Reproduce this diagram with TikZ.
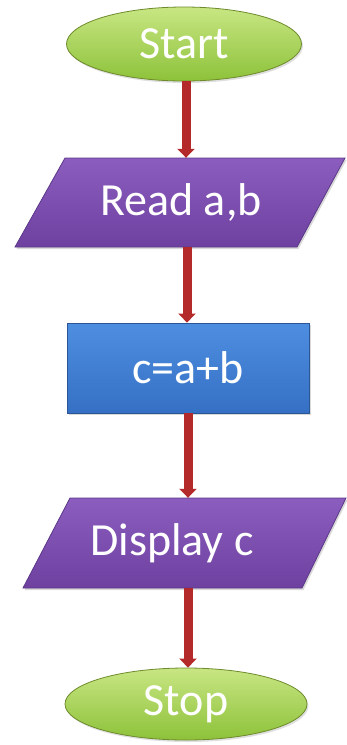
\documentclass[tikz,border=0pt]{standalone}
\usepackage{fontspec}
\setmainfont{Carlito}
\usetikzlibrary{arrows.meta,shapes.geometric,shadows}
\definecolor{grnT}{HTML}{C8E683}
\definecolor{grnB}{HTML}{8DC23A}
\definecolor{grnD}{HTML}{6E8A2C}
\definecolor{purT}{HTML}{8B5DBE}
\definecolor{purB}{HTML}{6E40A0}
\definecolor{purD}{HTML}{5B3888}
\definecolor{bluT}{HTML}{4E8EE0}
\definecolor{bluB}{HTML}{3570C4}
\definecolor{bluD}{HTML}{2A5696}
\definecolor{arrC}{HTML}{B42A2A}
\tikzset{
  lbl/.style={text=white,font=\fontsize{46}{50}\selectfont,inner sep=0pt},
  term/.style={ellipse,draw=grnD,line width=0.8pt,top color=grnT,bottom color=grnB,
    drop shadow={opacity=0.25,shadow xshift=1.5pt,shadow yshift=-2pt}},
  iobox/.style={draw=purD,line width=0.8pt,top color=purT,bottom color=purB,
    drop shadow={opacity=0.3,shadow xshift=1.5pt,shadow yshift=-2pt}},
  procbox/.style={rectangle,draw=bluD,line width=0.8pt,top color=bluT,bottom color=bluB,
    drop shadow={opacity=0.3,shadow xshift=1.5pt,shadow yshift=-2pt}},
  arr/.style={draw=arrC,line width=9pt,-{Triangle[width=17pt,length=9pt]}},
}
\begin{document}
\begin{tikzpicture}[x=1pt,y=-1pt]
\useasboundingbox (0,0) rectangle (347,745);
% Start
\node[term,lbl,minimum width=235pt,minimum height=74pt] (start) at (184,44) {Start};
% Read a,b
\path[iobox] (65,158) -- (345,158) -- (297,247) -- (15,247) -- cycle;
\node[lbl,minimum width=240pt,minimum height=89pt] (read) at (181,202.5) {Read a,b};
% c=a+b
\node[procbox,lbl,minimum width=242pt,minimum height=90pt] (calc) at (188,368) {c=a+b};
% Display c
\path[iobox] (70,498) -- (346,498) -- (302,588) -- (23,588) -- cycle;
\node[lbl,minimum width=240pt,minimum height=90pt] (disp) at (172,543) {Display c};
% Stop
\node[term,lbl,minimum width=242pt,minimum height=72pt] (stop) at (186,704) {Stop};
% connectors
\draw[arr] ([xshift=2pt]start.south) -- ([xshift=2pt]start.south |- read.north);
\draw[arr] ([xshift=6pt]read.south) -- ([xshift=6pt]read.south |- calc.north);
\draw[arr] ([xshift=0pt]calc.south) -- ([xshift=0pt]calc.south |- disp.north);
\draw[arr] ([xshift=16pt]disp.south) -- ([xshift=16pt]disp.south |- stop.north);
\end{tikzpicture}
\end{document}
